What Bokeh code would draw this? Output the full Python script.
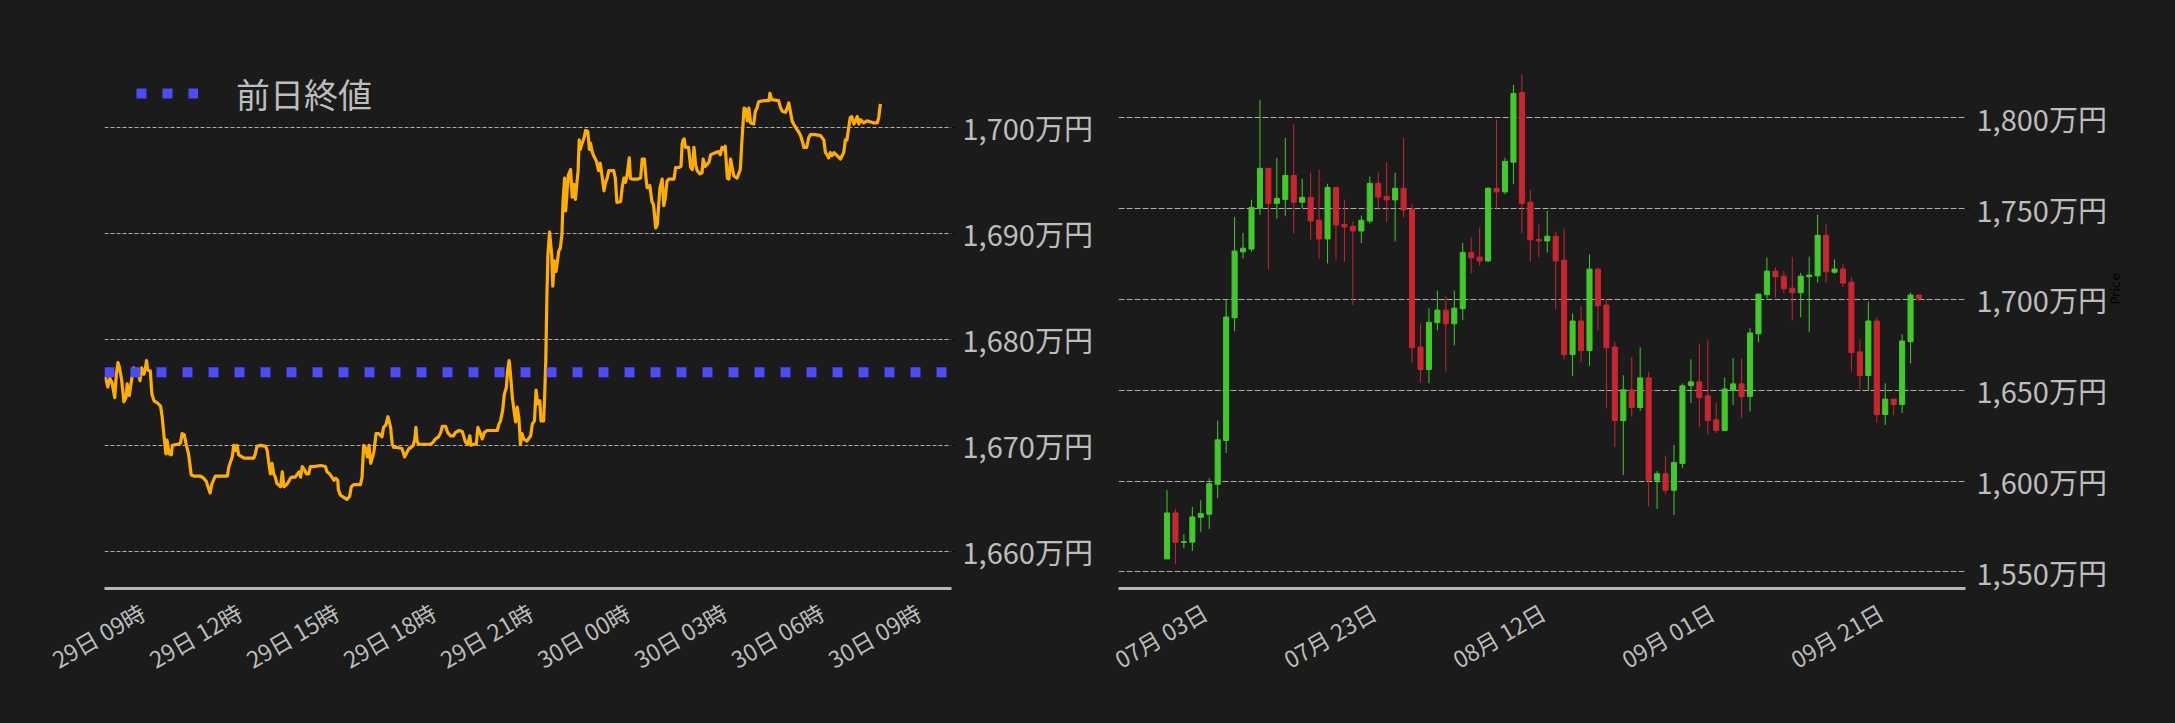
import math
import pandas as pd
from bokeh.plotting import figure
from bokeh.layouts import row
from bokeh.models import FixedTicker, Range1d, LinearAxis, Legend, LegendItem, ColumnDataSource, Grid
from bokeh.embed import file_html
from bokeh.resources import INLINE

# ---------------- intraday data (left chart), prices in 万円 ----------------
intraday_start = "2025-09-29 09:00"
intraday_minutes = [
    0, 2, 6, 10, 14, 19, 22, 25, 28, 32, 36, 40, 42, 46, 50, 52, 54, 58, 62, 66, 69, 73, 76, 78, 80, 85, 88, 92, 98,
    104, 107, 110, 114, 116, 120, 124, 126, 135, 141, 144, 148, 152, 156, 161, 166, 178, 184, 189, 192, 196, 199, 203,
    206, 215, 228, 231, 237, 240, 243, 246, 249, 259, 277, 280, 283, 290, 299, 302, 305, 308, 311, 314, 317, 320, 327,
    330, 333, 338, 342, 345, 348, 354, 361, 364, 367, 371, 375, 379, 382, 388, 401, 410, 413, 418, 422, 426, 429, 433,
    434, 438, 444, 450, 455, 458, 463, 475, 478, 481, 484, 488, 491, 494, 497, 500, 504, 509, 515, 518, 522, 526, 528,
    531, 534, 537, 543, 552, 557, 560, 565, 569, 573, 576, 578, 580, 583, 593, 605, 610, 614, 620, 624, 627, 633, 637,
    642, 648, 651, 658, 664, 667, 670, 674, 678, 680, 685, 690, 693, 697, 701, 705, 710, 716, 729, 732, 735, 739, 742,
    746, 748, 751, 753, 757, 760, 763, 766, 769, 772, 775, 778, 784, 791, 794, 798, 801, 804, 808, 810, 815, 817, 819,
    821, 823, 826, 830, 832, 835, 838, 840, 843, 846, 849, 851, 854, 856, 859, 861, 865, 868, 871, 874, 877, 879, 881,
    883, 886, 890, 893, 897, 900, 902, 905, 908, 913, 917, 920, 924, 927, 930, 933, 936, 939, 945, 948, 951, 958, 961,
    964, 967, 970, 974, 976, 979, 989, 995, 998, 1002, 1005, 1007, 1012, 1016, 1019, 1023, 1026, 1029, 1031, 1035,
    1038, 1041, 1044, 1047, 1057, 1060, 1066, 1070, 1072, 1074, 1076, 1078, 1084, 1088, 1091, 1094, 1097, 1100, 1105,
    1109, 1111, 1115, 1122, 1125, 1134, 1140, 1143, 1146, 1149, 1152, 1156, 1159, 1162, 1165, 1168, 1174, 1180, 1183,
    1187, 1190, 1193, 1196, 1199, 1205, 1208, 1211, 1214, 1224, 1233, 1235, 1238, 1251, 1255, 1258, 1264, 1267, 1270,
    1273, 1276, 1279, 1285, 1289, 1292, 1295, 1298, 1303, 1307, 1310, 1319, 1329, 1335, 1338, 1341, 1344, 1347, 1350,
    1354, 1360, 1366, 1369, 1372, 1375, 1378, 1381, 1384, 1387, 1391, 1394, 1397, 1400, 1403, 1409, 1415, 1428, 1434,
    1437, 1440,
]
intraday_price = [
    1676.4, 1676.4, 1675.5, 1676.3, 1675.9, 1674.5, 1676.7, 1677.8, 1677.3, 1676.1, 1674.1, 1674.5, 1675.8, 1674.7,
    1676.1, 1676.7, 1677.3, 1677.1, 1676.9, 1676.1, 1677.3, 1676.7, 1677.3, 1678.0, 1677.1, 1677.0, 1674.8, 1674.2,
    1674.0, 1673.7, 1672.7, 1671.1, 1669.2, 1670.5, 1669.2, 1669.1, 1670.0, 1670.1, 1670.2, 1671.1, 1671.0, 1670.0,
    1669.2, 1667.2, 1667.1, 1667.1, 1666.9, 1666.6, 1666.1, 1665.5, 1666.3, 1666.8, 1667.1, 1667.1, 1667.1, 1668.0,
    1668.9, 1670.0, 1669.5, 1670.0, 1669.1, 1668.8, 1668.8, 1669.2, 1669.9, 1670.0, 1669.9, 1669.5, 1668.3, 1667.3,
    1668.3, 1667.3, 1667.0, 1666.4, 1666.1, 1667.5, 1666.1, 1666.3, 1666.6, 1666.9, 1667.0, 1667.0, 1667.5, 1667.0,
    1668.0, 1667.7, 1667.3, 1667.3, 1668.0, 1668.0, 1668.1, 1668.0, 1667.5, 1667.3, 1667.0, 1666.7, 1666.9, 1666.7,
    1665.8, 1665.3, 1665.1, 1664.9, 1665.2, 1666.1, 1666.3, 1666.3, 1667.0, 1670.0, 1669.8, 1668.9, 1670.0, 1668.3,
    1668.8, 1669.4, 1671.1, 1671.1, 1670.8, 1671.7, 1671.9, 1672.7, 1672.3, 1671.7, 1670.1, 1669.8, 1669.8, 1669.7,
    1668.9, 1669.2, 1669.7, 1669.8, 1670.0, 1670.6, 1671.7, 1670.4, 1670.1, 1670.1, 1670.1, 1670.3, 1670.6, 1670.8,
    1671.2, 1671.8, 1671.8, 1671.2, 1670.9, 1670.9, 1671.2, 1671.4, 1671.3, 1670.8, 1670.3, 1670.1, 1670.9, 1670.0,
    1670.1, 1670.1, 1671.7, 1671.2, 1670.6, 1671.2, 1671.4, 1671.4, 1671.4, 1672.0, 1672.3, 1673.3, 1674.8, 1675.5,
    1677.0, 1678.0, 1677.0, 1674.5, 1673.3, 1672.2, 1673.6, 1672.6, 1670.1, 1671.1, 1670.6, 1670.4, 1670.9, 1672.0,
    1672.3, 1675.2, 1673.9, 1674.2, 1672.3, 1672.3, 1674.8, 1678.0, 1683.9, 1688.0, 1690.1, 1688.0, 1685.0, 1687.4,
    1686.4, 1687.1, 1688.3, 1688.6, 1689.9, 1693.0, 1695.2, 1692.1, 1694.3, 1695.5, 1696.0, 1693.4, 1694.6, 1693.2,
    1694.9, 1695.9, 1698.8, 1697.9, 1698.4, 1699.0, 1699.7, 1699.6, 1697.9, 1698.5, 1697.7, 1697.3, 1696.8, 1695.9,
    1696.6, 1695.2, 1694.0, 1694.8, 1695.2, 1695.9, 1695.9, 1695.9, 1695.2, 1692.9, 1693.0, 1694.4, 1695.2, 1694.8,
    1695.5, 1697.1, 1695.2, 1695.1, 1695.1, 1695.2, 1697.0, 1697.0, 1695.2, 1694.3, 1694.5, 1693.0, 1692.7, 1690.5,
    1690.8, 1693.0, 1694.3, 1695.1, 1692.6, 1693.4, 1694.9, 1695.1, 1695.1, 1696.2, 1696.2, 1696.3, 1698.4, 1698.8,
    1698.9, 1698.1, 1698.1, 1696.2, 1696.0, 1698.1, 1696.5, 1695.9, 1695.6, 1695.7, 1697.0, 1696.3, 1696.7, 1697.4,
    1697.6, 1697.7, 1697.4, 1698.1, 1697.9, 1698.2, 1695.2, 1695.1, 1697.0, 1696.2, 1695.4, 1695.2, 1696.0, 1698.7,
    1701.8, 1701.7, 1700.6, 1701.8, 1700.4, 1700.3, 1701.5, 1701.8, 1702.4, 1702.5, 1702.5, 1703.2, 1702.6, 1702.5,
    1701.8, 1701.5, 1701.4, 1701.8, 1702.3, 1701.5, 1700.6, 1700.3, 1699.8, 1699.5, 1699.2, 1698.7, 1698.1, 1698.1,
    1699.0, 1699.3, 1699.3, 1699.2, 1698.8, 1697.6, 1697.4, 1697.1, 1697.6, 1697.3, 1697.6, 1697.3, 1697.0, 1697.3,
    1697.6, 1698.8, 1698.8, 1699.9, 1700.9, 1701.0, 1700.3, 1700.6, 1701.0, 1700.3, 1700.7, 1700.4, 1700.6, 1700.4,
    1700.4, 1700.9, 1702.2,
]
prev_close = 1676.9
prev_close_label = "前日終値"
left_y_ticks = [1660, 1670, 1680, 1690, 1700]
left_x_tick_times = ["2025-09-29 09:00", "2025-09-29 12:00", "2025-09-29 15:00", "2025-09-29 18:00",
                     "2025-09-29 21:00", "2025-09-30 00:00", "2025-09-30 03:00", "2025-09-30 06:00",
                     "2025-09-30 09:00"]
left_x_tick_labels = ["29日 09時", "29日 12時", "29日 15時", "29日 18時", "29日 21時",
                      "30日 00時", "30日 03時", "30日 06時", "30日 09時"]

# ---------------- daily candles (right chart), prices in 万円 ----------------
candle_start = "2025-07-03"
candle_open = [
    1557.1, 1582.4, 1566.2, 1566.3, 1580.0, 1581.7, 1598.2, 1622.3, 1689.9, 1726.2, 1727.7, 1750.2, 1772.2, 1752.9,
    1755.1, 1768.3, 1753.5, 1756.2, 1743.6, 1733.3, 1761.7, 1741.4, 1740.3, 1737.7, 1743.2, 1763.9, 1756.8, 1754.8,
    1761.2, 1749.6, 1673.8, 1661.4, 1687.2, 1694.1, 1686.6, 1694.9, 1725.8, 1723.3, 1721.2, 1761.2, 1759.2, 1775.6,
    1813.9, 1753.5, 1733.0, 1732.2, 1734.8, 1721.6, 1669.6, 1688.1, 1671.8, 1716.7, 1696.9, 1673.8, 1633.3, 1650.2,
    1640.5, 1656.8, 1600.4, 1604.0, 1594.9, 1609.7, 1652.6, 1654.6, 1646.9, 1633.7, 1627.8, 1649.8, 1653.5, 1646.5,
    1681.1, 1702.6, 1715.6, 1712.8, 1706.2, 1703.7, 1712.5, 1713.0, 1735.3, 1715.0, 1716.7, 1709.5, 1671.1, 1658.1,
    1688.1, 1636.6, 1645.1, 1642.1, 1676.7, 1702.4,
]
candle_high = [
    1594.9, 1584.6, 1570.7, 1585.7, 1589.4, 1601.5, 1633.3, 1700.0, 1745.4, 1736.6, 1754.9, 1809.9, 1772.2, 1778.0,
    1789.0, 1796.7, 1766.5, 1769.8, 1771.4, 1763.7, 1761.7, 1754.9, 1742.9, 1746.2, 1767.6, 1769.8, 1775.5, 1769.8,
    1789.0, 1752.7, 1686.8, 1695.1, 1704.9, 1701.6, 1704.9, 1731.1, 1734.1, 1739.6, 1761.9, 1798.9, 1778.0, 1818.1,
    1823.8, 1760.4, 1741.4, 1748.7, 1737.4, 1739.0, 1692.3, 1696.3, 1724.7, 1717.2, 1700.0, 1676.7, 1658.2, 1668.3,
    1673.6, 1660.1, 1605.5, 1613.9, 1619.8, 1653.8, 1667.0, 1675.5, 1678.0, 1643.2, 1657.1, 1667.6, 1667.6, 1684.1,
    1703.3, 1723.1, 1717.6, 1715.8, 1723.1, 1714.7, 1723.6, 1746.7, 1741.8, 1722.0, 1719.4, 1712.1, 1678.0, 1698.7,
    1690.1, 1653.8, 1645.1, 1680.8, 1703.8, 1702.4,
]
candle_low = [
    1557.1, 1554.2, 1563.0, 1561.5, 1572.0, 1573.6, 1590.5, 1615.4, 1682.4, 1722.5, 1726.2, 1746.5, 1716.5, 1744.5,
    1745.8, 1736.3, 1750.2, 1733.0, 1722.5, 1719.8, 1722.0, 1720.7, 1696.7, 1731.0, 1741.8, 1749.5, 1742.7, 1731.9,
    1745.1, 1665.2, 1654.2, 1653.8, 1683.0, 1660.4, 1674.7, 1688.6, 1714.3, 1718.5, 1720.5, 1750.0, 1757.9, 1763.4,
    1736.6, 1720.9, 1723.4, 1725.8, 1694.5, 1667.0, 1657.7, 1665.2, 1663.4, 1683.0, 1640.1, 1618.7, 1603.3, 1635.5,
    1638.5, 1586.1, 1584.6, 1592.7, 1581.3, 1607.1, 1642.9, 1629.7, 1625.6, 1626.4, 1627.8, 1641.8, 1634.6, 1638.3,
    1676.4, 1700.4, 1701.1, 1703.3, 1688.5, 1690.1, 1681.9, 1709.3, 1709.2, 1714.1, 1706.8, 1660.3, 1650.5, 1649.8,
    1632.2, 1630.8, 1636.1, 1637.4, 1664.8, 1698.9,
]
candle_close = [
    1582.4, 1566.3, 1566.6, 1580.2, 1582.0, 1598.5, 1622.7, 1690.3, 1726.6, 1728.2, 1750.7, 1772.2, 1752.9, 1755.7,
    1768.3, 1753.5, 1756.2, 1743.2, 1733.3, 1761.7, 1741.0, 1739.9, 1737.7, 1743.6, 1763.9, 1756.4, 1754.8, 1761.2,
    1749.3, 1673.4, 1661.4, 1687.4, 1694.1, 1686.6, 1695.2, 1725.8, 1722.9, 1721.2, 1761.2, 1759.2, 1776.0, 1813.4,
    1752.9, 1732.8, 1732.2, 1734.8, 1721.2, 1669.6, 1688.1, 1671.8, 1716.7, 1696.5, 1673.4, 1633.3, 1650.2, 1640.5,
    1656.8, 1600.4, 1604.0, 1594.9, 1610.1, 1652.4, 1654.6, 1646.0, 1633.3, 1627.8, 1650.7, 1653.5, 1646.5, 1681.5,
    1702.9, 1715.6, 1712.5, 1705.9, 1703.7, 1712.8, 1713.4, 1735.3, 1715.2, 1716.7, 1709.0, 1670.7, 1658.1, 1688.1,
    1636.6, 1645.1, 1642.1, 1677.1, 1702.4, 1700.4,
]
right_y_ticks = [1550, 1600, 1650, 1700, 1750, 1800]
right_x_tick_times = ["2025-07-03", "2025-07-23", "2025-08-12", "2025-09-01", "2025-09-21"]
right_x_tick_labels = ["07月 03日", "07月 23日", "08月 12日", "09月 01日", "09月 21日"]

# ---------------- styling ----------------
BG = "#1b1b1b"
TXT = "#bdbdbd"
GRID = "#c8c8c8"
FONT = "Noto Sans CJK JP"
UP = "#42c92b"
DOWN = "#c9262f"
FRAME_W, FRAME_H = 847, 568
LABEL_SHIFT_PX = 38


def ms(t):
    return int(pd.Timestamp(t).value // 10**6)


def style_y(p, y_ticks, dash):
    yt = FixedTicker(ticks=y_ticks)
    ya = p.yaxis[0]
    ya.ticker = yt
    ya.major_label_overrides = {v: f"{v:,}万円" for v in y_ticks}
    ya.axis_line_color = None
    ya.major_tick_in = 0
    ya.major_tick_out = 4
    ya.major_tick_line_color = "#0a0a0a"
    ya.minor_tick_line_color = None
    ya.major_label_standoff = 7
    ya.major_label_text_font = FONT
    ya.major_label_text_font_size = "29px"
    ya.major_label_text_color = TXT
    p.ygrid.ticker = yt
    p.ygrid.grid_line_color = GRID
    p.ygrid.grid_line_dash = dash
    p.ygrid.grid_line_width = 1
    p.ygrid.grid_line_alpha = 0.85


def add_x_axis(p, tick_times, tick_labels, x_start, x_end):
    # labels are centred under their dates: the axis uses a range offset by half a label
    ticks = [ms(t) for t in tick_times]
    shift = LABEL_SHIFT_PX * (x_end - x_start) / FRAME_W
    p.extra_x_ranges = {"lbl": Range1d(x_start - shift, x_end - shift)}
    la = LinearAxis(x_range_name="lbl", ticker=FixedTicker(ticks=ticks),
                    major_label_overrides=dict(zip(ticks, tick_labels)))
    la.major_label_orientation = math.pi / 6
    la.axis_line_color = "#b5b5b5"
    la.axis_line_width = 3
    la.major_tick_line_color = None
    la.minor_tick_line_color = None
    la.major_label_standoff = 15
    la.major_label_text_font = FONT
    la.major_label_text_font_size = "23px"
    la.major_label_text_color = TXT
    p.add_layout(la, "below")
    # no vertical grid lines in the reference
    for r in list(p.center) + list(p.renderers):
        if isinstance(r, Grid) and r.dimension == 0:
            r.visible = False


# ---------------- left: intraday line ----------------
t0 = ms(intraday_start)
ix = [t0 + m * 60000 for m in intraday_minutes]
lx0 = t0
lx1 = t0 + int(26.2 * 3600 * 1000)

p1 = figure(frame_width=FRAME_W, frame_height=FRAME_H, x_axis_location=None, y_axis_location="right",
            x_range=Range1d(lx0, lx1), y_range=Range1d(1656.5, 1710.06),
            output_backend="svg", toolbar_location=None,
            min_border_left=104, min_border_right=147, min_border_top=20, min_border_bottom=115,
            background_fill_color=BG, border_fill_color=BG, outline_line_color=None)
style_y(p1, left_y_ticks, "4 2")
add_x_axis(p1, left_x_tick_times, left_x_tick_labels, lx0, lx1)

p1.line(x=ix, y=intraday_price, line_color="#ffad00", line_width=3.2, line_join="round")
r_prev = p1.line(x=[lx0, lx1], y=[prev_close, prev_close], line_color="#4b4bff", line_width=10,
                 line_dash="10 16", line_cap="butt")

legend = Legend(items=[LegendItem(label=prev_close_label, renderers=[r_prev])],
                location=(32, 467), glyph_width=62, glyph_height=56, label_height=56,
                label_standoff=38, padding=0, margin=0, spacing=0,
                label_text_font=FONT, label_text_font_size="34px", label_text_color=TXT,
                background_fill_alpha=0, border_line_alpha=0)
p1.add_layout(legend)

# ---------------- right: daily candles ----------------
dates = pd.date_range(candle_start, periods=len(candle_open), freq="D")
cx = [ms(d) for d in dates]
day = 86400000
rx0 = ms(right_x_tick_times[0]) - int(5.74 * day)
rx1 = ms(right_x_tick_times[-1]) + int(14.5 * day)

colors = [UP if c >= o else DOWN for o, c in zip(candle_open, candle_close)]
src = ColumnDataSource(dict(
    x=cx, high=candle_high, low=candle_low,
    top=[max(o, c) for o, c in zip(candle_open, candle_close)],
    bottom=[min(o, c) for o, c in zip(candle_open, candle_close)],
    color=colors,
))

p2 = figure(frame_width=FRAME_W, frame_height=FRAME_H, x_axis_location=None, y_axis_location="right",
            x_range=Range1d(rx0, rx1), y_range=Range1d(1540.8, 1853.6),
            output_backend="svg", toolbar_location=None,
            min_border_left=20, min_border_right=200, min_border_top=20, min_border_bottom=115,
            background_fill_color=BG, border_fill_color=BG, outline_line_color=None)
style_y(p2, right_y_ticks, "6 2")
add_x_axis(p2, right_x_tick_times, right_x_tick_labels, rx0, rx1)

ya2 = p2.yaxis[0]
ya2.axis_label = "Price"
ya2.axis_label_text_color = "#000000"
ya2.axis_label_text_font = "DejaVu Sans"
ya2.axis_label_text_font_size = "13px"
ya2.axis_label_text_font_style = "normal"
ya2.axis_label_standoff = 6
try:
    ya2.axis_label_orientation = math.pi / 2
except Exception:
    pass

p2.segment(x0="x", y0="low", x1="x", y1="high", line_color="color", line_width=1, source=src)
p2.vbar(x="x", width=0.6 * day, top="top", bottom="bottom", fill_color="color", line_color="color",
        line_width=1, source=src)

layout = row(p1, p2)
html = file_html(layout, INLINE)
html = html.replace("<head>", "<head><style>body{background:#1b1b1b;}</style>", 1)
open("out.html", "w").write(html)
